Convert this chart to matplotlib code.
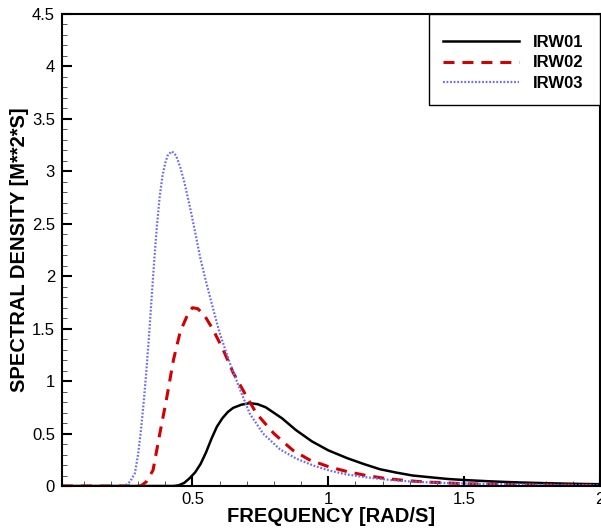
import numpy as np
import matplotlib
matplotlib.use('Agg')
import matplotlib.pyplot as plt
from matplotlib.patches import Rectangle

plt.rcParams['font.family'] = ['Liberation Sans', 'DejaVu Sans']

# frequency [rad/s] and spectral density
f_irw01 = [0.02, 0.43, 0.45, 0.47, 0.49, 0.51, 0.53, 0.55, 0.57, 0.59, 0.61, 0.63,
           0.65, 0.68, 0.71, 0.74, 0.77, 0.83, 0.88, 0.94, 1.00, 1.07, 1.13, 1.19,
           1.25, 1.31, 1.38, 1.44, 1.50, 1.60, 1.70, 1.80, 1.90, 2.00]
s_irw01 = [0.0, 0.0, 0.007, 0.03, 0.075, 0.13, 0.21, 0.32, 0.45, 0.565, 0.645, 0.705,
           0.745, 0.775, 0.79, 0.78, 0.75, 0.645, 0.535, 0.425, 0.34, 0.265, 0.21, 0.16,
           0.128, 0.10, 0.082, 0.067, 0.057, 0.044, 0.034, 0.027, 0.021, 0.017]

f_irw02 = [0.02, 0.31, 0.33, 0.355, 0.38, 0.404, 0.43, 0.455, 0.48, 0.50, 0.52, 0.546,
           0.576, 0.613, 0.65, 0.70, 0.736, 0.80, 0.85, 0.87, 0.93, 1.00, 1.07, 1.14,
           1.215, 1.29, 1.36, 1.44, 1.50, 1.60, 1.70, 1.80, 1.90, 2.00]
s_irw02 = [0.0, 0.0, 0.04, 0.15, 0.50, 0.82, 1.20, 1.47, 1.62, 1.70, 1.69, 1.62,
           1.49, 1.30, 1.08, 0.85, 0.69, 0.50, 0.385, 0.34, 0.25, 0.185, 0.137, 0.10,
           0.07, 0.051, 0.038, 0.029, 0.022, 0.017, 0.013, 0.010, 0.008, 0.006]

f_irw03 = [0.02, 0.25, 0.27, 0.288, 0.30, 0.31, 0.32, 0.33, 0.34, 0.35, 0.36, 0.37,
           0.38, 0.39, 0.40, 0.41, 0.425, 0.44, 0.455, 0.47, 0.49, 0.51, 0.53, 0.55,
           0.575, 0.60, 0.638, 0.675, 0.711, 0.76, 0.822, 0.883, 0.945, 1.006, 1.068,
           1.14, 1.23, 1.313, 1.41, 1.50, 1.60, 1.70, 1.80, 1.90, 2.00]
s_irw03 = [0.0, 0.0, 0.04, 0.12, 0.30, 0.52, 0.78, 1.08, 1.42, 1.80, 2.17, 2.50,
           2.77, 2.96, 3.08, 3.16, 3.19, 3.15, 3.04, 2.90, 2.67, 2.42, 2.16, 1.95,
           1.70, 1.46, 1.17, 0.92, 0.69, 0.50, 0.35, 0.26, 0.195, 0.146, 0.11,
           0.083, 0.057, 0.041, 0.03, 0.024, 0.018, 0.014, 0.011, 0.009, 0.007]

labels = ['IRW01', 'IRW02', 'IRW03']

fig = plt.figure(figsize=(6.01, 5.28), dpi=100)
ax = fig.add_axes([62/601, 42/528, 538/601, 472/528])

ax.plot(f_irw01, s_irw01, color='black', lw=1.8, label=labels[0])
ax.plot(f_irw02, s_irw02, color='#d40000', lw=2.2, ls=(0, (3.6, 2.6)), label=labels[1])
ax.plot(f_irw03, s_irw03, color='#6a6aff', lw=1.6, ls=(0, (0.8, 0.8)), label=labels[2])

ax.set_xlim(0.02, 2)
ax.set_ylim(0, 4.5)
ax.set_xticks([0.5, 1, 1.5, 2])
ax.set_xticklabels(['0.5', '1', '1.5', '2'])
ax.set_yticks(np.arange(0, 4.51, 0.5))
ax.set_yticklabels(['0', '0.5', '1', '1.5', '2', '2.5', '3', '3.5', '4', '4.5'])
ax.set_xticks(np.arange(0.1, 2.0, 0.1), minor=True)
ax.set_yticks(np.arange(0.1, 4.5, 0.1), minor=True)

ax.tick_params(which='major', direction='in', length=7, width=1.5, labelsize=12,
               top=False, right=False)
ax.tick_params(which='minor', direction='in', length=3.5, width=0.7, color='#555555',
               top=False, right=False)
ax.tick_params(axis='y', pad=5)
ax.tick_params(axis='x', pad=4)
for sp in ax.spines.values():
    sp.set_linewidth(1.5)

ax.set_xlabel('FREQUENCY [RAD/S]', fontsize=14.5, fontweight='bold', labelpad=0)
ax.set_ylabel('SPECTRAL DENSITY [M**2*S]', fontsize=14.5, fontweight='bold', labelpad=2)

# legend box drawn by hand so the padding matches
box = Rectangle((0.682, 0.807), 0.318, 0.193, transform=ax.transAxes,
                facecolor='white', edgecolor='black', lw=1.0, zorder=4)
ax.add_patch(box)
leg = ax.legend(loc='upper left', bbox_to_anchor=(0.708, 0.9555), borderaxespad=0,
                borderpad=0, frameon=False, handlelength=4.55, handletextpad=0.84,
                labelspacing=0.32, prop={'weight': 'bold', 'size': 12})
leg.set_zorder(5)

fig.savefig('out.png', dpi=100)
